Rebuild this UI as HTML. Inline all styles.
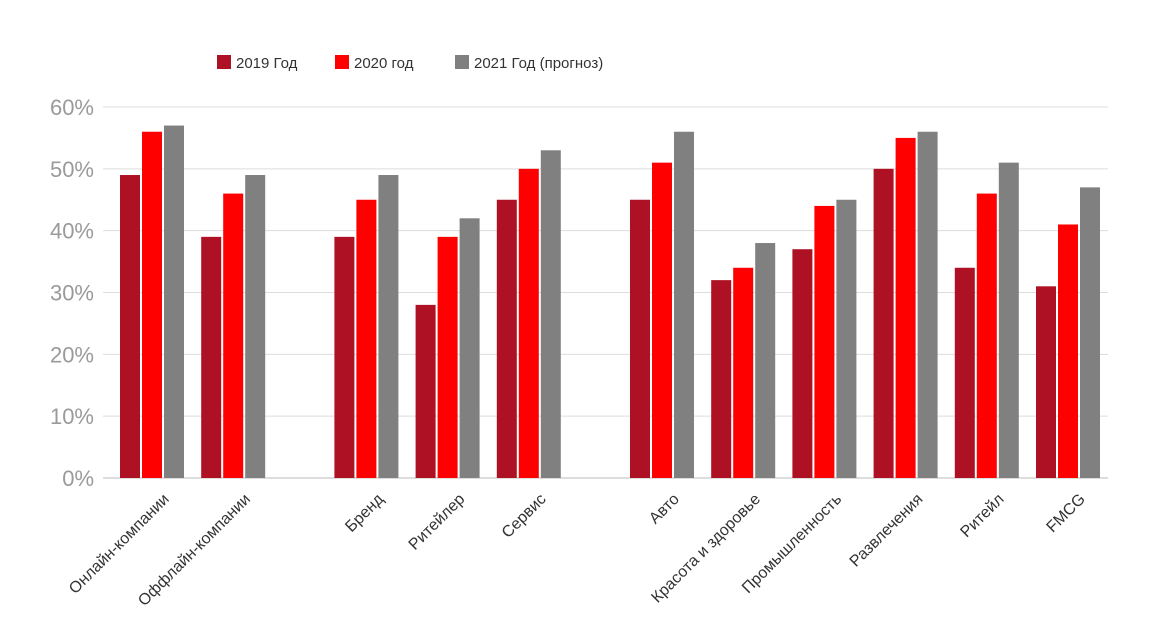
<!DOCTYPE html>
<html><head><meta charset="utf-8">
<style>
body{margin:0;background:#fff;}
svg{display:block;font-family:"Liberation Sans",sans-serif;}
</style></head>
<body>
<svg id="chart" width="1164" height="642"></svg>
<script>
const categories=["Онлайн-компании","Оффлайн-компании","Бренд","Ритейлер","Сервис","Авто","Красота и здоровье","Промышленность","Развлечения","Ритейл","FMCG"];
const groupIndex=[0,0,1,1,1,2,2,2,2,2,2];
const series2019=[49,39,39,28,45,45,32,37,50,34,31];
const series2020=[56,46,45,39,50,51,34,44,55,46,41];
const series2021=[57,49,49,42,53,56,38,45,56,51,47];
const seriesNames=["2019 Год","2020 год","2021 Год (прогноз)"];
const colors=["#ae1024","#fe0000","#808080"];
const yTicks=[0,10,20,30,40,50,60];

const NS="http://www.w3.org/2000/svg";
const svgRoot=document.getElementById('chart');
const plotLeft=103,plotRight=1108,plotTop=107,plotBottom=478,yMax=60;
const yScale=v=>plotBottom-(v/yMax)*(plotBottom-plotTop);
const step=81.2,gapW=52,x0=152;
const xc=i=>x0+i*step+groupIndex[i]*gapW;
function el(t,a){const e=document.createElementNS(NS,t);for(const k in a)e.setAttribute(k,a[k]);svgRoot.appendChild(e);return e;}

yTicks.forEach(t=>{
  const g=el('line',{x1:plotLeft,x2:plotRight,y1:yScale(t),y2:yScale(t),stroke:t===0?'#bbb':'#ddd','stroke-width':1});
  
  
  const l=el('text',{x:94,y:yScale(t)+8,'text-anchor':'end','font-size':22,fill:'#9a9a9a'});
  l.textContent=t+'%';
  
  
});
const allSeries=[series2019,series2020,series2021];
categories.forEach((c,i)=>{
  const cx=xc(i);
  allSeries.forEach((s,k)=>{
    const bx=cx-32+k*22;
    const r=el('rect',{x:bx,y:yScale(s[i]),width:20,height:plotBottom-yScale(s[i]),fill:colors[k]});
    
    
  });
  const ax=cx+18, ay=500;
  const t=el('text',{x:ax,y:ay,'text-anchor':'end','font-size':16,fill:'#333',transform:`rotate(-45 ${ax} ${ay})`});
  t.textContent=c;
  
  
});
const legX=[217,335,455];
seriesNames.forEach((n,k)=>{
  const r=el('rect',{x:legX[k],y:55,width:14,height:14,fill:colors[k]});
  
  
  const t=el('text',{x:legX[k]+19,y:68,'font-size':15,fill:'#333'});
  t.textContent=n;
  
  
});
</script>
</body></html>
